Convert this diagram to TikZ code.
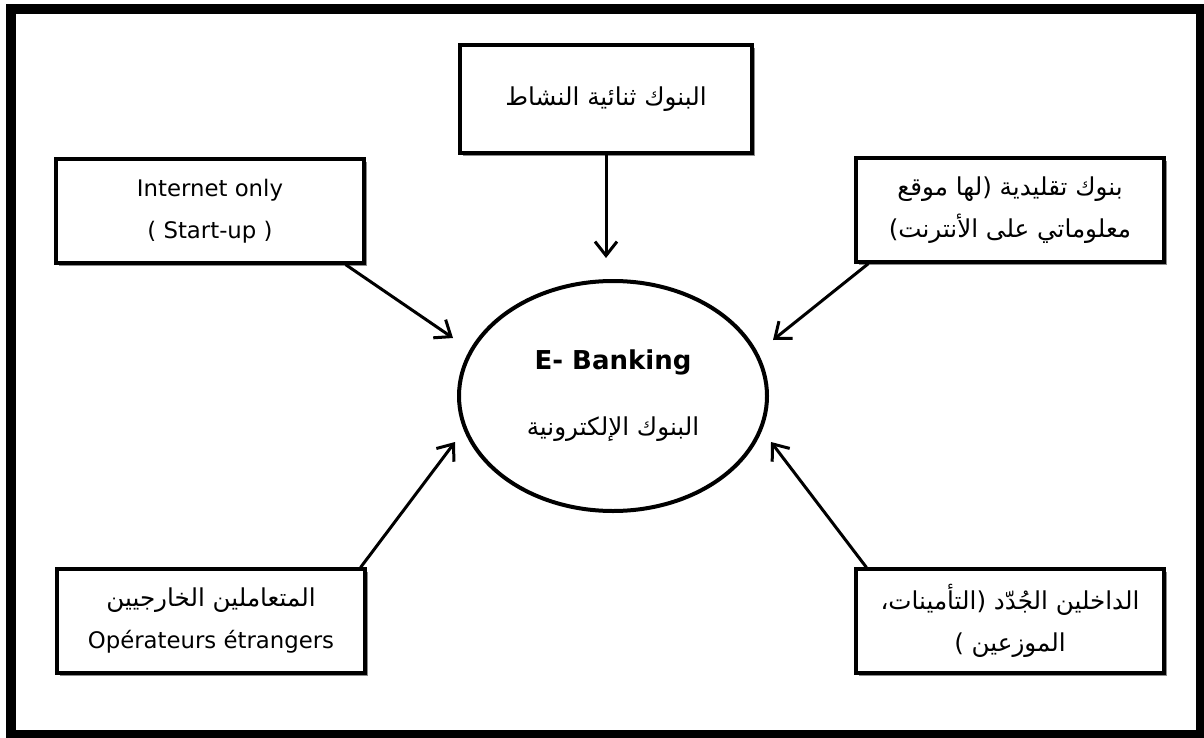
\documentclass[tikz,border=0pt]{standalone}
\usepackage{fontspec}
\setmainfont{DejaVu Sans}
\newfontfamily\arabicfont[Script=Arabic,Scale=1.08]{DejaVu Sans}
\TeXXeTstate=1
\usetikzlibrary{arrows.meta, positioning, shapes.geometric, shadows}
\newcommand{\artxt}[1]{{\arabicfont\beginR #1\endR}}

\begin{document}
\begin{tikzpicture}[
  x=0.5pt, y=-0.5pt,
  box/.style={rectangle, draw, line width=1.6pt, fill=white,
              drop shadow={shadow xshift=1.5pt, shadow yshift=-1.5pt, fill=black!45, opacity=1},
              minimum width=154pt, minimum height=52pt, align=center,
              font=\fontsize{11.4}{21}\selectfont},
  hub/.style={ellipse, draw, line width=2pt, minimum width=154pt, minimum height=115pt,
              inner sep=0pt, align=center, font=\fontsize{11.4}{21}\selectfont},
  arr/.style={-{Straight Barb[length=7pt, width=11pt]}, line width=1.5pt},
]
\useasboundingbox (0,0) rectangle (1204,738);
% outer frame
\draw[line width=5pt] (11,9) rectangle (1201,735);

\node[hub] (ebank) at (613,396) {{\fontsize{13}{15}\bfseries E- Banking}\\[12pt]\artxt{البنوك الإلكترونية}};
\node[box, minimum width=146pt, minimum height=54pt] (dual) at (606,99) {\artxt{البنوك ثنائية النشاط}};
\node[box] (web) at (210,211) {Internet only\\( Start-up )};
\node[box] (trad) at (1010,210) {\artxt{بنوك تقليدية (لها موقع}\\\artxt{معلوماتي على الأنترنت)}};
\node[box] (foreign) at (211,621) {\artxt{المتعاملين الخارجيين}\\Opérateurs étrangers};
\node[box] (newcomers) at (1010,621) {\artxt{الداخلين الجُدّد (التأمينات،}\\\artxt{الموزعين )}};

% arrow tips stop short of the ellipse
\coordinate (dualTip) at (606,258);
\coordinate (webTip) at (453,338);
\coordinate (tradTip) at (773,340);
\coordinate (foreignTip) at (455,442);
\coordinate (newTip) at (771,442);

\draw[arr] (dual) -- (dualTip);
\draw[arr] ([xshift=-10pt]web.south east) -- (webTip);
\draw[arr] ([xshift=7pt]trad.south west) -- (tradTip);
\draw[arr] ([xshift=-3pt]foreign.north east) -- (foreignTip);
\draw[arr] ([xshift=6pt]newcomers.north west) -- (newTip);
\end{tikzpicture}
\end{document}
